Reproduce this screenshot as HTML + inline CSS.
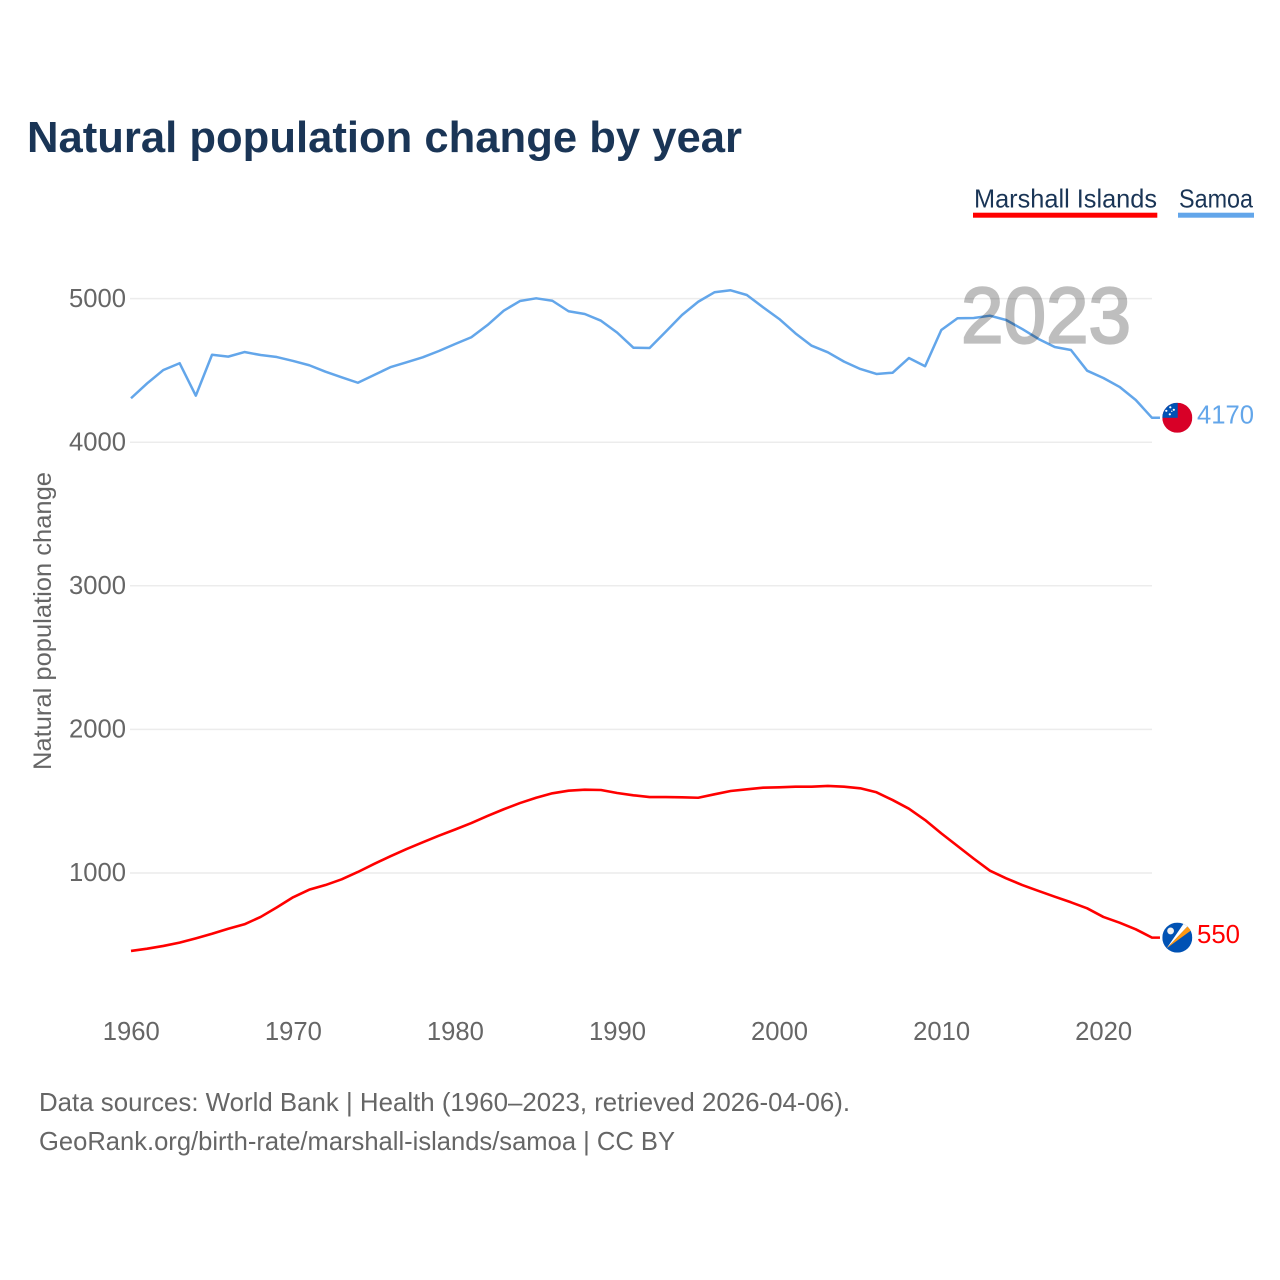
<!DOCTYPE html>
<html lang="en">
<head>
<meta charset="utf-8">
<title>Natural population change by year</title>
<style>
html,body{margin:0;padding:0;background:#fff;}
svg{display:block;font-family:"Liberation Sans",sans-serif;}
</style>
</head>
<body>
<svg id="chart" xmlns="http://www.w3.org/2000/svg" width="1280" height="1280" viewBox="0 0 1280 1280">
  <rect width="1280" height="1280" fill="#fff"/>
  <text x="27" y="152" font-size="44" font-weight="700" fill="#1a3556" textLength="715" lengthAdjust="spacingAndGlyphs">Natural population change by year</text>

  <g>
    <g>
      <text x="974" y="207.5" font-size="26" fill="#1a3556" textLength="183" lengthAdjust="spacingAndGlyphs">Marshall Islands</text>
      <rect x="973" y="212.7" width="184.3" height="5" fill="#ff0000"/>
    </g>
    <g>
      <text x="1179" y="207.5" font-size="26" fill="#1a3556" textLength="74" lengthAdjust="spacingAndGlyphs">Samoa</text>
      <rect x="1178" y="212.7" width="76" height="5" fill="#63a6ea"/>
    </g>
  </g>

  <g id="grid"></g>
  <g id="yTicks"></g>
  <g id="xTicks"></g>
  <text transform="translate(51,770) rotate(-90)" font-size="25" fill="#666" textLength="298" lengthAdjust="spacingAndGlyphs">Natural population change</text>

  <g id="series"></g>

  <text x="961" y="342.5" font-size="79" font-weight="400" fill="#000" stroke="#000" stroke-width="2.2" opacity="0.25" textLength="170" lengthAdjust="spacingAndGlyphs">2023</text>

  <defs>
    <clipPath id="flagClip"><circle cx="0" cy="0" r="15"/></clipPath>
  </defs>

  <g id="flagSamoa">
    <g clip-path="url(#flagClip)">
      <rect x="-15" y="-15" width="30" height="30" fill="#d80027"/>
      <rect x="-15" y="-15" width="15.4" height="15" fill="#0052b4"/>
      <circle cx="-7" cy="-10.5" r="1.1" fill="#fff"/>
      <circle cx="-11" cy="-7" r="1.1" fill="#fff"/>
      <circle cx="-3.5" cy="-8" r="1.1" fill="#fff"/>
      <circle cx="-7.5" cy="-3.5" r="1.1" fill="#fff"/>
      <circle cx="-5.5" cy="-6.5" r="0.7" fill="#fff"/>
    </g>
  </g>
  <g id="flagMarshall">
    <g clip-path="url(#flagClip)">
      <rect x="-15" y="-15" width="30" height="30" fill="#0052b4"/>
      <polygon points="-10.5,10.5 7,-15 11,-12" fill="#fff"/>
      <polygon points="-10.5,10.5 11,-12 13.5,-7" fill="#ff9811"/>
      <circle cx="-6.7" cy="-6.7" r="3.4" fill="#f0f0f0"/>
    </g>
  </g>
  <text id="labelSamoa" x="1197" font-size="26" fill="#63a6ea" textLength="57" lengthAdjust="spacingAndGlyphs"></text>
  <text id="labelMarshall" x="1197" font-size="26" fill="#ff0000" textLength="43" lengthAdjust="spacingAndGlyphs"></text>

  <text x="39" y="1111" font-size="26" fill="#666" textLength="811" lengthAdjust="spacingAndGlyphs">Data sources: World Bank | Health (1960–2023, retrieved 2026-04-06).</text>
  <text x="39" y="1150" font-size="26" fill="#666" textLength="636" lengthAdjust="spacingAndGlyphs">GeoRank.org/birth-rate/marshall-islands/samoa | CC BY</text>
</svg>
<script>
const startYear = 1960;
const yTickValues = [1000, 2000, 3000, 4000, 5000];
const xTickYears = [1960, 1970, 1980, 1990, 2000, 2010, 2020];
const marshallValues = [457,473,492,515,545,577,612,643,694,761,831,884,916,956,1007,1063,1116,1167,1214,1260,1303,1348,1397,1444,1487,1524,1555,1573,1580,1578,1557,1541,1529,1529,1527,1524,1548,1571,1583,1594,1597,1601,1601,1606,1601,1590,1562,1508,1448,1369,1276,1188,1100,1016,963,916,875,835,796,754,694,654,608,550];
const samoaValues = [4306,4410,4503,4550,4324,4609,4596,4628,4607,4593,4566,4536,4491,4452,4414,4468,4522,4556,4591,4635,4684,4731,4816,4916,4983,5002,4985,4912,4893,4846,4763,4658,4656,4770,4886,4978,5044,5058,5025,4940,4858,4758,4672,4626,4561,4510,4475,4484,4586,4529,4781,4863,4865,4881,4851,4788,4719,4663,4642,4498,4447,4385,4294,4170];

const NS = 'http://www.w3.org/2000/svg';
function xScale(year) { return 131 + (year - 1960) * 16.206; }
function yScale(value) { return 873 - (value - 1000) * 0.1436; }

const grid = document.getElementById('grid');
const yTicks = document.getElementById('yTicks');
const xTicks = document.getElementById('xTicks');
const series = document.getElementById('series');

yTickValues.forEach(function (v) {
  const line = document.createElementNS(NS, 'line');
  
  
  line.setAttribute('x1', 130);
  line.setAttribute('x2', 1152);
  line.setAttribute('y1', yScale(v));
  line.setAttribute('y2', yScale(v));
  line.setAttribute('stroke', '#ececec');
  line.setAttribute('stroke-width', 1.5);
  grid.appendChild(line);

  const t = document.createElementNS(NS, 'text');
  
  
  t.setAttribute('x', 69);
  t.setAttribute('y', yScale(v) + 8.2);
  t.setAttribute('font-size', 26);
  t.setAttribute('fill', '#666');
  t.setAttribute('textLength', 57);
  t.setAttribute('lengthAdjust', 'spacingAndGlyphs');
  t.textContent = String(v);
  yTicks.appendChild(t);
});

xTickYears.forEach(function (yr) {
  const t = document.createElementNS(NS, 'text');
  
  
  t.setAttribute('x', xScale(yr) - 28.2);
  t.setAttribute('y', 1040);
  t.setAttribute('font-size', 26);
  t.setAttribute('fill', '#666');
  t.setAttribute('textLength', 57);
  t.setAttribute('lengthAdjust', 'spacingAndGlyphs');
  t.textContent = String(yr);
  xTicks.appendChild(t);
});

function linePath(values) {
  const pts = values.map(function (v, i) {
    return xScale(startYear + i).toFixed(2) + ',' + yScale(v).toFixed(2);
  });
  const last = values[values.length - 1];
  pts.push((xScale(startYear + values.length - 1) + 8).toFixed(2) + ',' + yScale(last).toFixed(2));
  return 'M' + pts.join('L');
}

const samoaLine = document.createElementNS(NS, 'path');


samoaLine.setAttribute('d', linePath(samoaValues));
samoaLine.setAttribute('fill', 'none');
samoaLine.setAttribute('stroke', '#63a6ea');
samoaLine.setAttribute('stroke-width', 2.5);
samoaLine.setAttribute('stroke-linejoin', 'round');
series.appendChild(samoaLine);

const marshallLine = document.createElementNS(NS, 'path');


marshallLine.setAttribute('d', linePath(marshallValues));
marshallLine.setAttribute('fill', 'none');
marshallLine.setAttribute('stroke', '#ff0000');
marshallLine.setAttribute('stroke-width', 2.6);
marshallLine.setAttribute('stroke-linejoin', 'round');
series.appendChild(marshallLine);

const samoaLast = samoaValues[samoaValues.length - 1];
const marshallLast = marshallValues[marshallValues.length - 1];
document.getElementById('flagSamoa').setAttribute('transform', 'translate(1177.3,' + yScale(samoaLast) + ')');
document.getElementById('flagMarshall').setAttribute('transform', 'translate(1177.3,' + yScale(marshallLast) + ')');
const labelSamoa = document.getElementById('labelSamoa');
labelSamoa.setAttribute('y', yScale(samoaLast) + 5.5);
labelSamoa.textContent = String(samoaLast);
const labelMarshall = document.getElementById('labelMarshall');
labelMarshall.setAttribute('y', yScale(marshallLast) + 5.5);
labelMarshall.textContent = String(marshallLast);
</script>
</body>
</html>
